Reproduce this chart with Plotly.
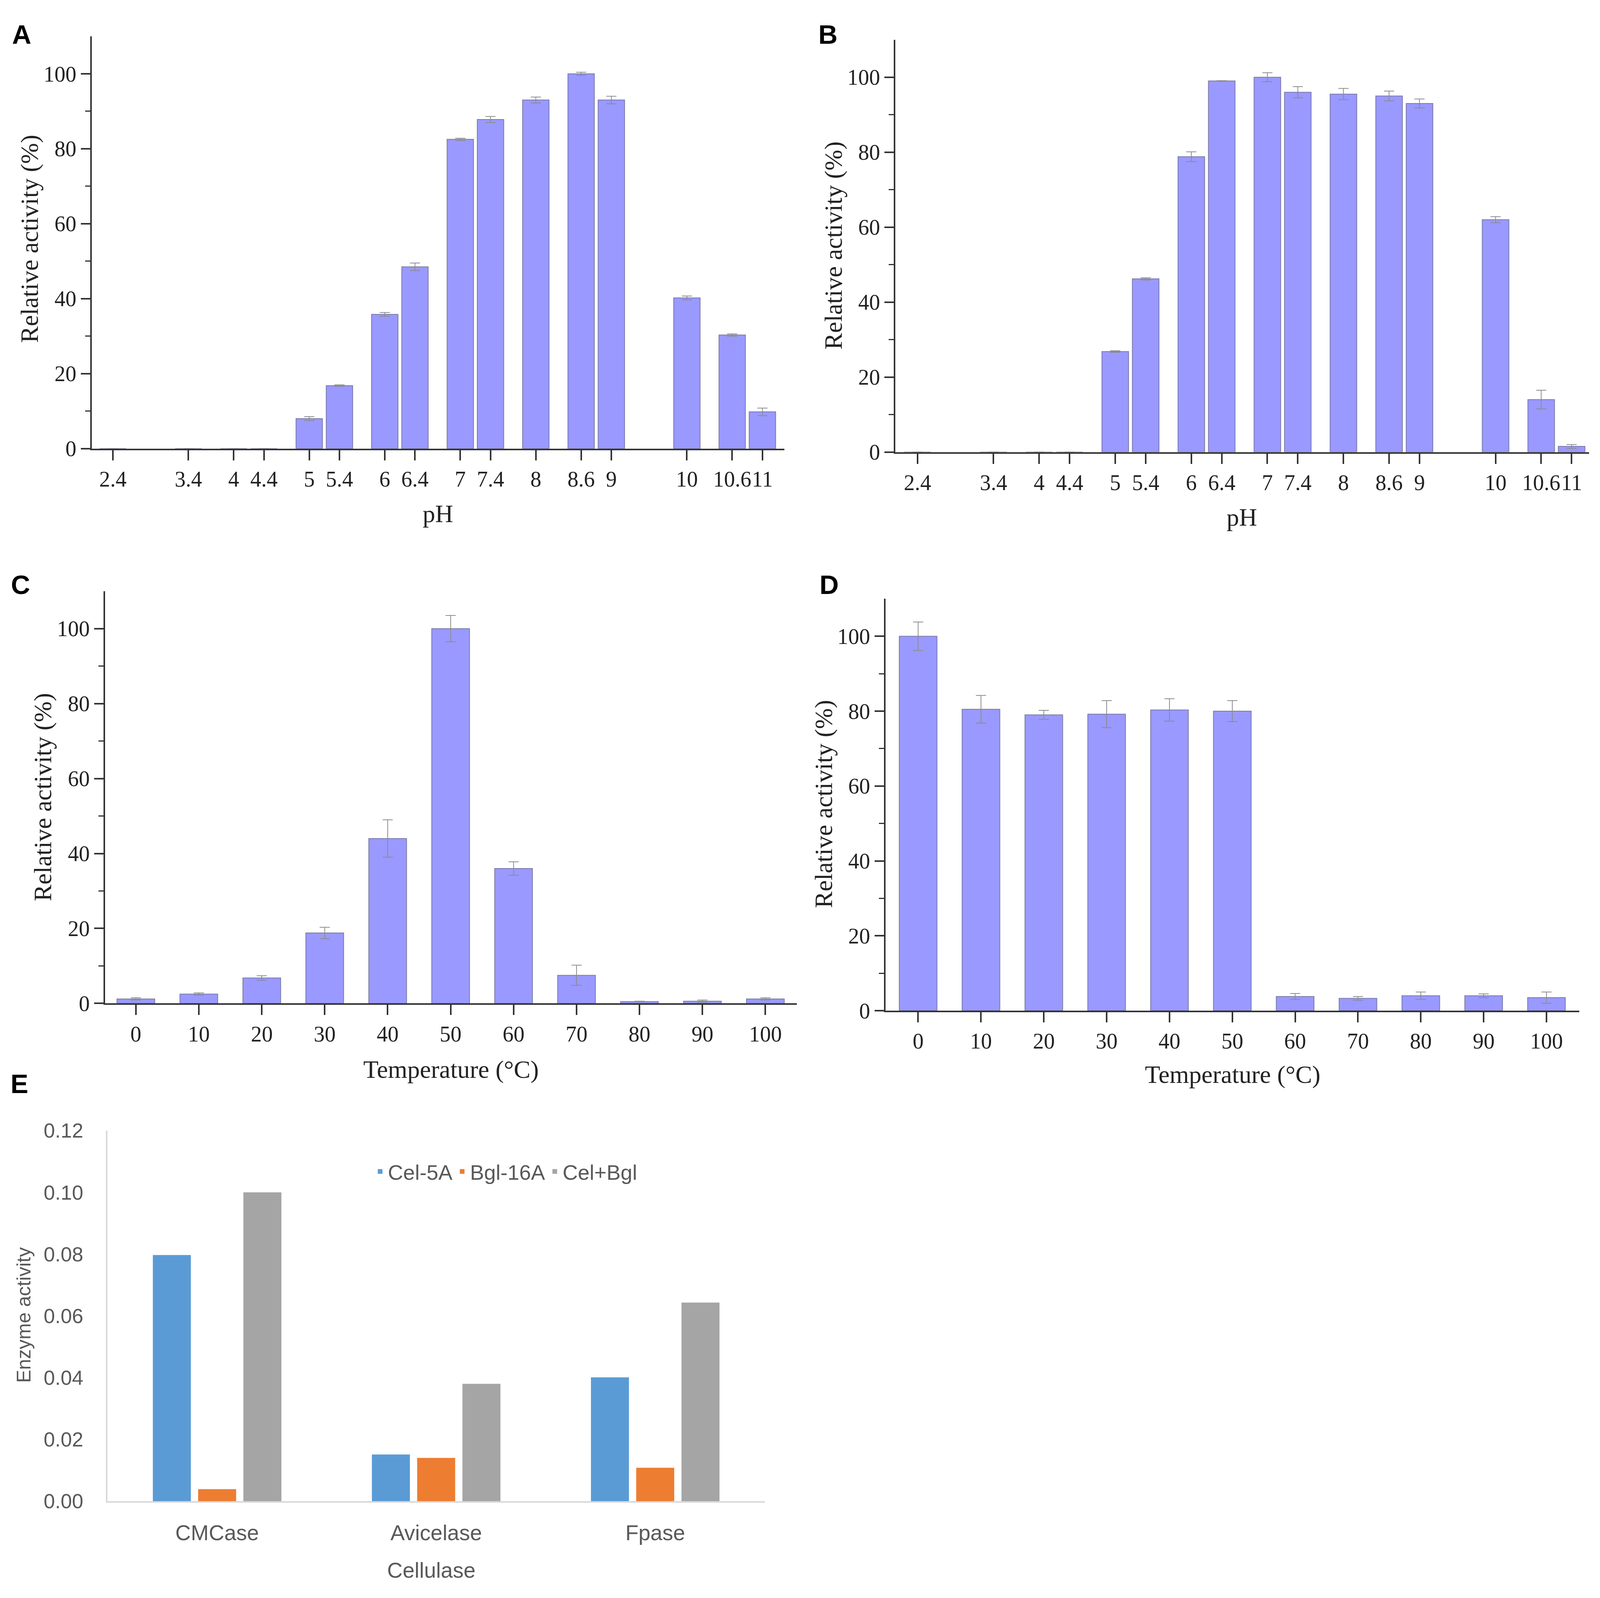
import plotly.graph_objects as go

#------------------------------------------------------------
#                          DATA
#------------------------------------------------------------

ph_values = [2.4, 3.4, 4, 4.4, 5, 5.4, 6, 6.4, 7, 7.4, 8, 8.6, 9, 10, 10.6, 11]
ph_labels = ['2.4', '3.4', '4', '4.4', '5', '5.4', '6', '6.4', '7', '7.4', '8', '8.6', '9', '10', '10.6', '11']

act_ph_a = [0, 0, 0, 0, 8.0, 16.8, 35.8, 48.5, 82.5, 87.8, 93.0, 100.0, 93.0, 40.2, 30.3, 9.8]
err_ph_a = [0, 0, 0, 0, 0.5, 0.2, 0.5, 1.0, 0.3, 0.8, 0.8, 0.4, 1.0, 0.5, 0.3, 1.0]

act_ph_b = [0, 0, 0, 0, 26.8, 46.2, 78.8, 99.0, 100.0, 96.0, 95.5, 95.0, 93.0, 62.0, 14.0, 1.5]
err_ph_b = [0, 0, 0, 0, 0.2, 0.3, 1.3, 0.1, 1.2, 1.5, 1.5, 1.3, 1.2, 0.8, 2.5, 0.5]

temp_values = [0, 10, 20, 30, 40, 50, 60, 70, 80, 90, 100]

act_temp_c = [1.2, 2.5, 6.8, 18.8, 44.0, 100.0, 36.0, 7.5, 0.5, 0.6, 1.2]
err_temp_c = [0.3, 0.3, 0.6, 1.5, 5.0, 3.5, 1.8, 2.7, 0.1, 0.3, 0.3]

act_temp_d = [100.0, 80.5, 79.0, 79.2, 80.3, 80.0, 3.8, 3.3, 4.0, 4.0, 3.5]
err_temp_d = [3.8, 3.7, 1.2, 3.6, 3.0, 2.8, 0.8, 0.5, 1.0, 0.5, 1.5]

cellulase = ['CMCase', 'Avicelase', 'Fpase']
enzymes = ['Cel-5A', 'Bgl-16A', 'Cel+Bgl']
enzyme_activity = {
    'Cel-5A': [0.0797, 0.0151, 0.0401],
    'Bgl-16A': [0.0039, 0.0140, 0.0108],
    'Cel+Bgl': [0.1000, 0.0380, 0.0643],
}
enzyme_colors = ['#5B9BD5', '#ED7D31', '#A5A5A5']

#------------------------------------------------------------
#                          LAYOUT
#------------------------------------------------------------

# reference pixel grid, everything is placed as a fraction of it
W, H = 4317, 4092

def px_x(x):
    return x / W

def px_y(y):
    return 1 - y / H

serif = 'Liberation Serif, Times New Roman, serif'
sans = 'Liberation Sans, Arial, sans-serif'
bar_color = '#9999ff'
bar_line = '#7a7aa8'
axis_color = '#333333'

fig = go.Figure()

# FIGURES A-D (origin style bars with error bars)
panels = [
    ('x', 'y', ph_values, act_ph_a, err_ph_a, 0.35),
    ('x2', 'y2', ph_values, act_ph_b, err_ph_b, 0.35),
    ('x3', 'y3', temp_values, act_temp_c, err_temp_c, 6),
    ('x4', 'y4', temp_values, act_temp_d, err_temp_d, 6),
]

for xa, ya, xs, ys, es, w in panels:
    fig.add_trace(go.Bar(
        x=xs, y=ys, width=w, xaxis=xa, yaxis=ya, showlegend=False,
        marker=dict(color=bar_color, line=dict(color=bar_line, width=2)),
        error_y=dict(type='data', array=es, color='#8c8c8c', thickness=2, width=13),
    ))

# FIGURE E (excel style grouped bars)
for name, col in zip(enzymes, enzyme_colors):
    fig.add_trace(go.Bar(
        x=cellulase, y=enzyme_activity[name], name=name,
        xaxis='x5', yaxis='y5', marker=dict(color=col, line=dict(width=0)),
    ))

origin_y = dict(
    range=[0, 110], tickvals=[0, 20, 40, 60, 80, 100],
    showline=True, linecolor=axis_color, linewidth=4,
    ticks='outside', ticklen=24, tickwidth=4, tickcolor=axis_color,
    minor=dict(tickvals=[10, 30, 50, 70, 90], ticks='outside', ticklen=13,
               tickwidth=3, tickcolor=axis_color),
    showgrid=False, zeroline=False,
    tickfont=dict(family=serif, size=56, color='#222222'),
)

origin_x = dict(
    showline=True, linecolor=axis_color, linewidth=4,
    ticks='outside', ticklen=26, tickwidth=4, tickcolor=axis_color,
    showgrid=False, zeroline=False, tickangle=0,
    tickfont=dict(family=serif, size=56, color='#222222'),
)

fig.update_layout(
    autosize=True,
    margin=dict(l=0, r=0, t=0, b=0),
    paper_bgcolor='white', plot_bgcolor='white',
    barmode='group', bargap=0.38, bargroupgap=0.16,

    xaxis=dict(origin_x, domain=[px_x(240), px_x(2116)], range=[2.12, 11.29],
               tickvals=ph_values, ticktext=ph_labels, anchor='y'),
    yaxis=dict(origin_y, domain=[px_y(1133), px_y(57)], anchor='x'),

    xaxis2=dict(origin_x, domain=[px_x(2417), px_x(4296)], range=[2.11, 11.23],
                tickvals=ph_values, ticktext=ph_labels, anchor='y2'),
    yaxis2=dict(origin_y, domain=[px_y(1142), px_y(66)], anchor='x2'),

    xaxis3=dict(origin_x, domain=[px_x(276), px_x(2150)], range=[-4.9, 105],
                tickvals=temp_values, anchor='y3'),
    yaxis3=dict(origin_y, domain=[px_y(2581), px_y(1505)], anchor='x3'),

    xaxis4=dict(origin_x, domain=[px_x(2390), px_x(4269)], range=[-5.2, 105.2],
                tickvals=temp_values, anchor='y4'),
    yaxis4=dict(origin_y, domain=[px_y(2600), px_y(1525)], anchor='x4'),

    xaxis5=dict(domain=[px_x(283), px_x(2063)], anchor='y5',
                showline=True, linecolor='#d9d9d9', linewidth=4, tickangle=0,
                ticks='', showgrid=False, zeroline=False, ticklabelstandoff=30,
                tickfont=dict(family=sans, size=55, color='#595959')),
    yaxis5=dict(domain=[px_y(3880), px_y(2913)], anchor='x5',
                range=[0, 0.12], tickvals=[0, 0.02, 0.04, 0.06, 0.08, 0.10, 0.12],
                tickformat='.2f', showline=True, linecolor='#d9d9d9', linewidth=4,
                ticks='', showgrid=False, zeroline=False, ticklabelstandoff=48,
                tickfont=dict(family=sans, size=52, color='#595959')),

    legend=dict(orientation='h', x=px_x(1000), y=px_y(3020), xanchor='left', yanchor='middle',
                font=dict(family=sans, size=54, color='#595959'),
                bgcolor='rgba(0,0,0,0)', itemwidth=30, traceorder='normal'),
)

# axis titles and panel letters
annots = [
    # (text, x px, y px, angle, font family, size, colour)
    ('pH', 1178, 1303, 0, serif, 64, '#222222'),
    ('pH', 3355, 1312, 0, serif, 64, '#222222'),
    ('Temperature (°C)', 1213, 2753, 0, serif, 64, '#222222'),
    ('Temperature (°C)', 3330, 2767, 0, serif, 64, '#222222'),
    ('Relative activity (%)', 72, 586, -90, serif, 64, '#222222'),
    ('Relative activity (%)', 2249, 603, -90, serif, 64, '#222222'),
    ('Relative activity (%)', 107, 2043, -90, serif, 64, '#222222'),
    ('Relative activity (%)', 2222, 2061, -90, serif, 64, '#222222'),
    ('Cellulase', 1160, 4060, 0, sans, 55, '#595959'),
    ('Enzyme activity', 56, 3394, -90, sans, 50, '#595959'),
]
for text, x, y, ang, fam, size, col in annots:
    fig.add_annotation(text=text, x=px_x(x), y=px_y(y), xref='paper', yref='paper',
                       showarrow=False, textangle=ang, xanchor='center', yanchor='middle',
                       font=dict(family=fam, size=size, color=col))

letters = [('A', 50, 52), ('B', 2234, 52), ('C', 47, 1488), ('D', 2237, 1488), ('E', 44, 2790)]
for text, x, y in letters:
    fig.add_annotation(text='<b>' + text + '</b>', x=px_x(x), y=px_y(y), xref='paper', yref='paper',
                       showarrow=False, xanchor='center', yanchor='middle',
                       font=dict(family=sans, size=68, color='black'))

fig.write_html("out.html")
